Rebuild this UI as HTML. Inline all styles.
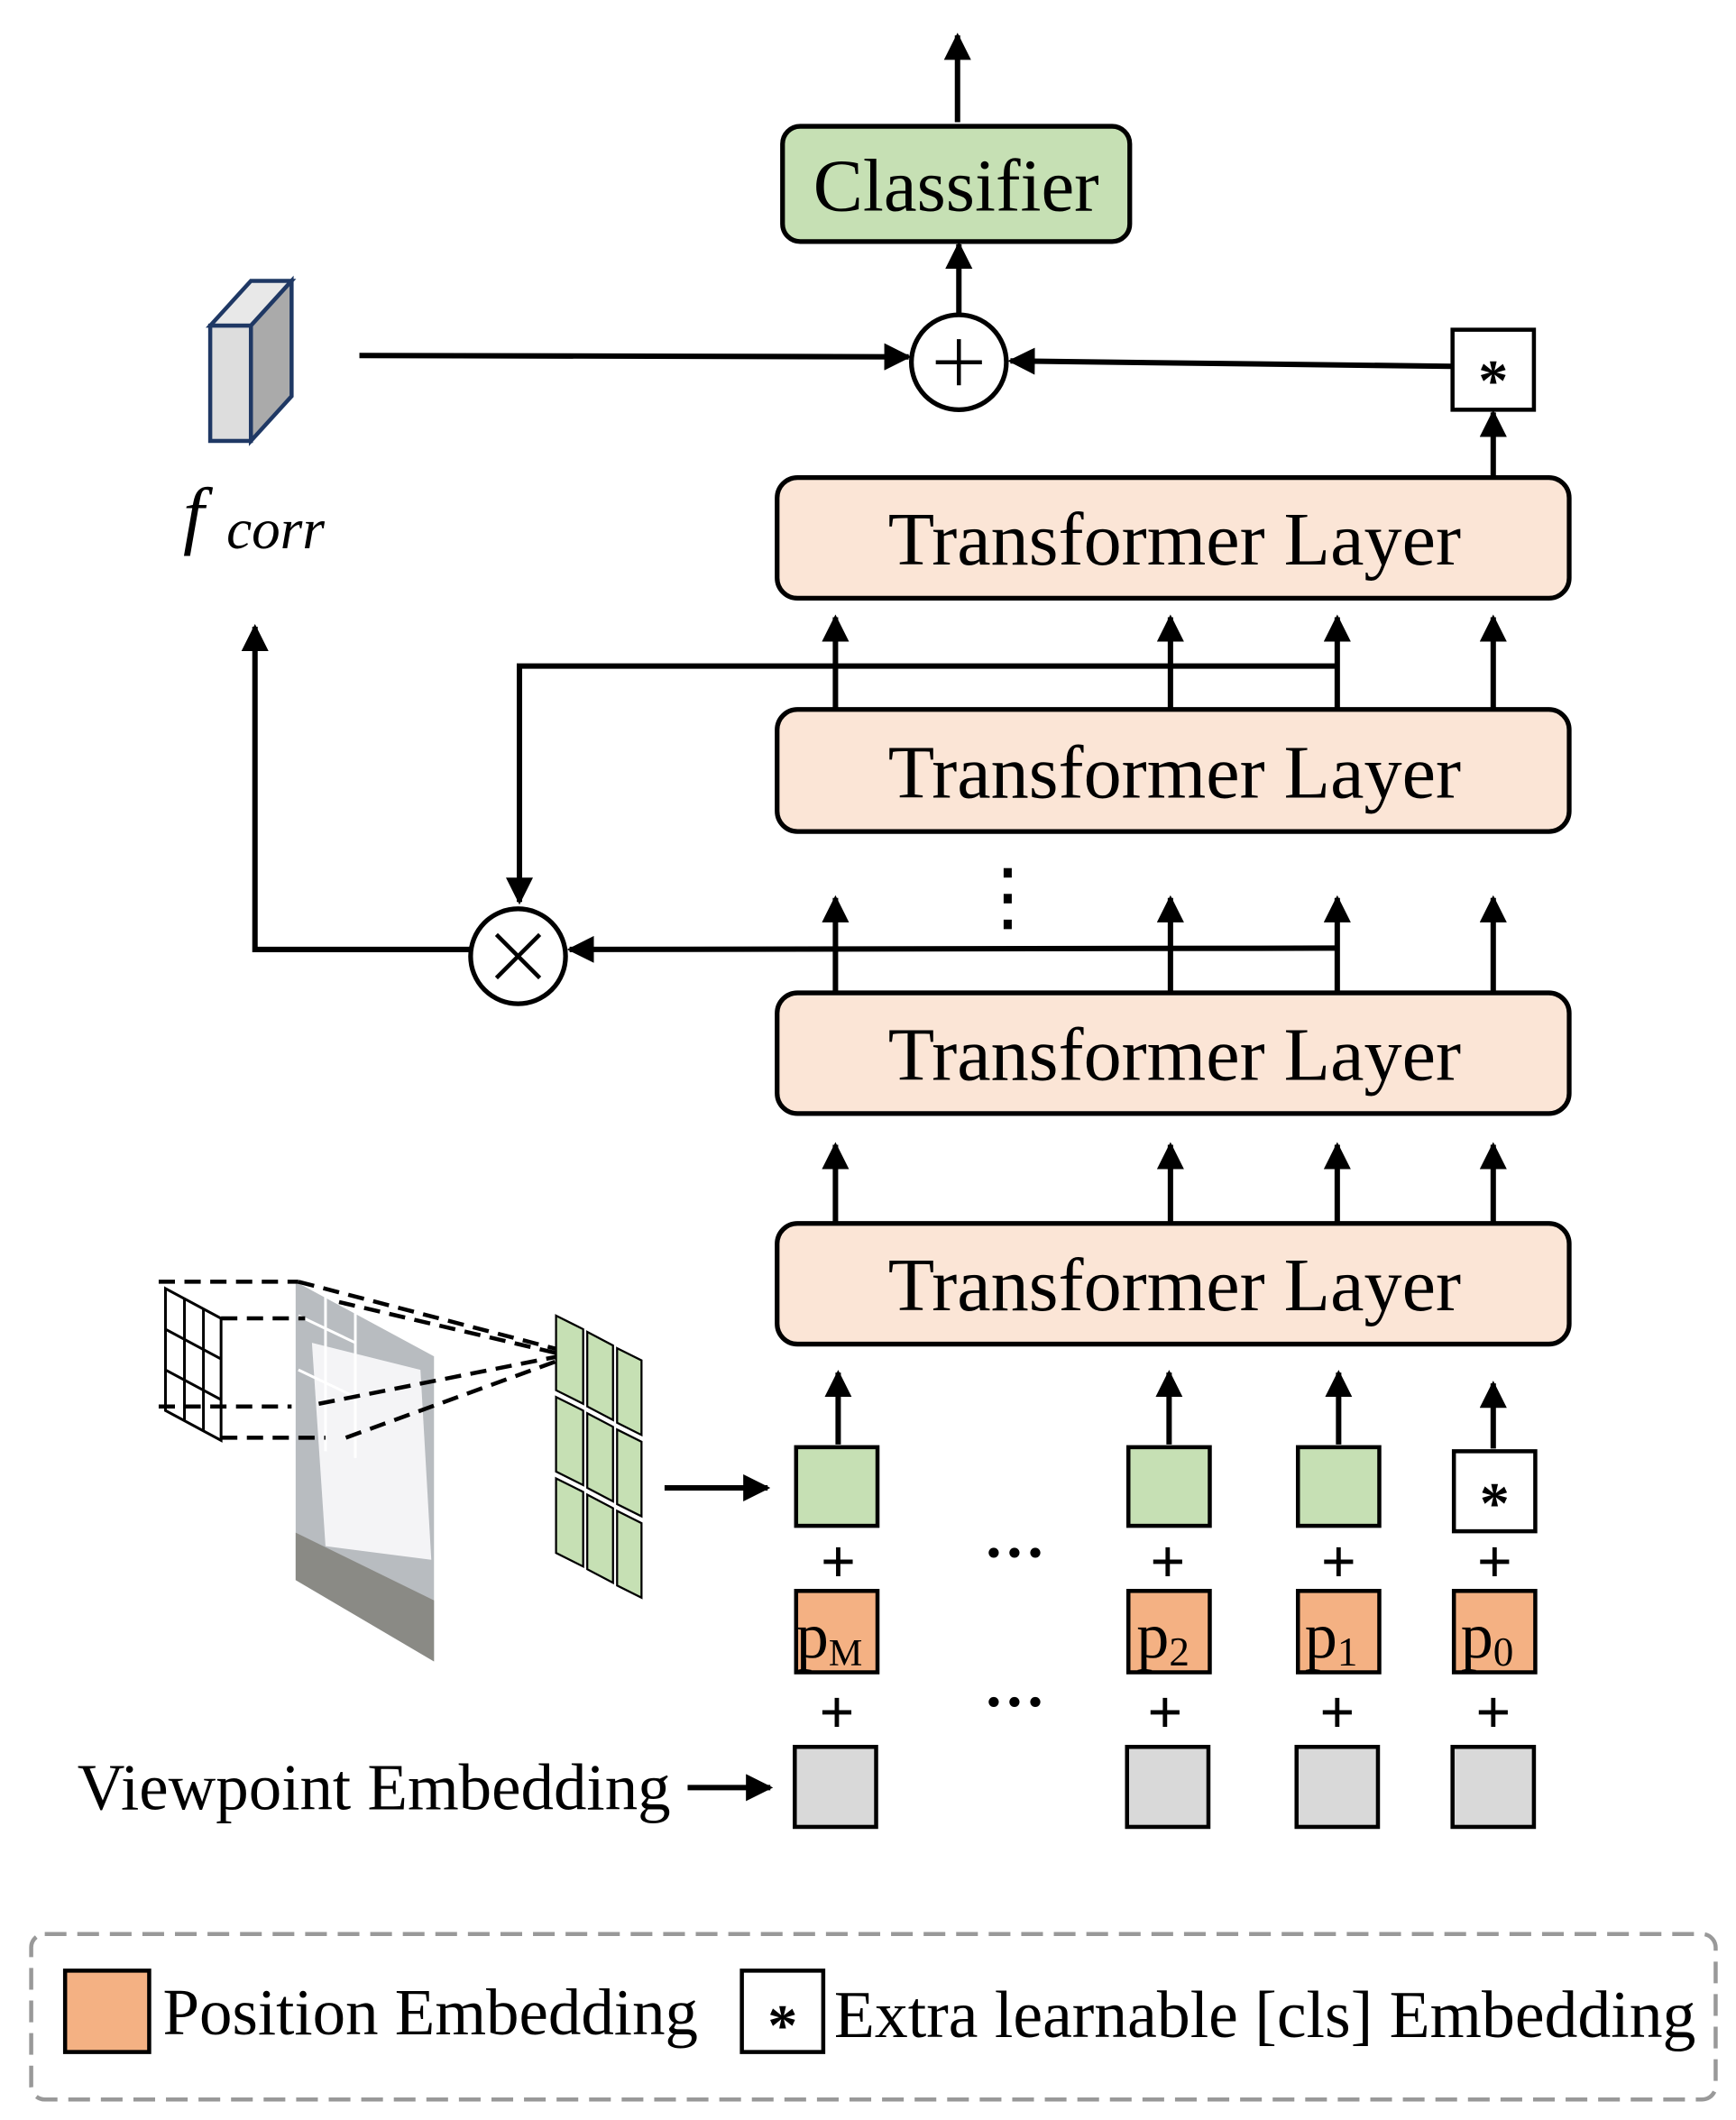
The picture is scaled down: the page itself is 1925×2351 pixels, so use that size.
<!DOCTYPE html>
<html><head><style>html,body{margin:0;padding:0;background:#fff;}svg{display:block}</style></head>
<body>
<svg width="1925" height="2351" viewBox="0 0 1280 1563" xmlns="http://www.w3.org/2000/svg" font-family="Liberation Serif, serif">
<defs>
<marker id="a" viewBox="0 0 10 10" refX="9" refY="5" markerWidth="5" markerHeight="5" orient="auto-start-reverse" markerUnits="strokeWidth"><path d="M0,0 L10,5 L0,10 z" fill="#000"/></marker>
</defs>
<g stroke="#000" stroke-width="4" fill="none">
<line x1="706" y1="90" x2="706" y2="26" marker-end="url(#a)"/>
<line x1="707" y1="232" x2="707" y2="180" marker-end="url(#a)"/>
<line x1="265" y1="262" x2="670" y2="263" marker-end="url(#a)"/>
<line x1="1071" y1="270" x2="745" y2="266" marker-end="url(#a)"/>
<line x1="1101" y1="352" x2="1101" y2="304" marker-end="url(#a)"/>
<line x1="616" y1="523" x2="616" y2="455" marker-end="url(#a)"/>
<line x1="863" y1="523" x2="863" y2="455" marker-end="url(#a)"/>
<line x1="986" y1="523" x2="986" y2="455" marker-end="url(#a)"/>
<line x1="1101" y1="523" x2="1101" y2="455" marker-end="url(#a)"/>
<polyline points="986,491 383,491 383,665" marker-end="url(#a)"/>
<line x1="616" y1="732" x2="616" y2="662" marker-end="url(#a)"/>
<line x1="863" y1="732" x2="863" y2="662" marker-end="url(#a)"/>
<line x1="986" y1="732" x2="986" y2="662" marker-end="url(#a)"/>
<line x1="1101" y1="732" x2="1101" y2="662" marker-end="url(#a)"/>
<line x1="986" y1="699" x2="420" y2="700" marker-end="url(#a)"/>
<polyline points="347,700 188,700 188,462" marker-end="url(#a)"/>
<line x1="616" y1="902" x2="616" y2="844" marker-end="url(#a)"/>
<line x1="863" y1="902" x2="863" y2="844" marker-end="url(#a)"/>
<line x1="986" y1="902" x2="986" y2="844" marker-end="url(#a)"/>
<line x1="1101" y1="902" x2="1101" y2="844" marker-end="url(#a)"/>
<line x1="618" y1="1065" x2="618" y2="1012" marker-end="url(#a)"/>
<line x1="862" y1="1065" x2="862" y2="1012" marker-end="url(#a)"/>
<line x1="987" y1="1065" x2="987" y2="1012" marker-end="url(#a)"/>
<line x1="1101" y1="1068" x2="1101" y2="1020" marker-end="url(#a)"/>
<line x1="490" y1="1097" x2="566" y2="1097" marker-end="url(#a)"/>
<line x1="507" y1="1318" x2="568" y2="1318" marker-end="url(#a)"/>
</g>
<rect x="577" y="93" width="256" height="85" rx="13" fill="#c6e0b4" stroke="#000" stroke-width="3.5"/>
<text x="705" y="155" font-size="55" text-anchor="middle">Classifier</text>
<circle cx="707" cy="267" r="35" fill="#fff" stroke="#000" stroke-width="3.5"/>
<path d="M690,267 H724 M707,250 V284" stroke="#000" stroke-width="3"/>
<circle cx="382" cy="705" r="35" fill="#fff" stroke="#000" stroke-width="3.5"/>
<path d="M366,689 L398,721 M398,689 L366,721" stroke="#000" stroke-width="3"/>
<polygon points="155,240 185,207 215,207 185,240" fill="#e8e8e8" stroke="#1f3864" stroke-width="3"/>
<polygon points="185,240 215,207 215,292 185,325" fill="#aaa" stroke="#1f3864" stroke-width="3"/>
<rect x="155" y="240" width="30" height="85" fill="#ddd" stroke="#1f3864" stroke-width="3"/>
<text x="135" y="398" font-size="56" font-style="italic">f</text>
<text x="167" y="404" font-size="42" font-style="italic">corr</text>
<rect x="1071" y="243" width="60" height="59" fill="#fff" stroke="#000" stroke-width="3"/>
<text x="1101" y="295" font-size="44" font-weight="bold" text-anchor="middle">*</text>
<g fill="#fbe5d6" stroke="#000" stroke-width="3.5">
<rect x="573" y="352" width="584" height="89" rx="15"/>
<rect x="573" y="523" width="584" height="90" rx="15"/>
<rect x="573" y="732" width="584" height="89" rx="15"/>
<rect x="573" y="902" width="584" height="89" rx="15"/>
</g>
<g font-size="56" text-anchor="middle">
<text x="866" y="416">Transformer Layer</text>
<text x="866" y="588">Transformer Layer</text>
<text x="866" y="796">Transformer Layer</text>
<text x="866" y="966">Transformer Layer</text>
</g>
<g fill="#000"><rect x="740" y="640" width="6" height="7"/><rect x="740" y="659" width="6" height="7"/><rect x="740" y="678" width="6" height="7"/></g>
<polygon points="218,945 320,1000 320,1225 218,1165" fill="#b8bcc0"/>
<polygon points="230,990 310,1010 318,1150 240,1140" fill="#f4f4f6"/>
<polygon points="218,1130 320,1180 320,1225 218,1165" fill="#8a8a85"/>
<g stroke="#fff" stroke-width="2"><line x1="220" y1="970" x2="262" y2="990"/><line x1="220" y1="1010" x2="262" y2="1030"/><line x1="240" y1="955" x2="240" y2="1070"/><line x1="262" y1="960" x2="262" y2="1075"/></g>
<g stroke="#000" stroke-width="2" fill="none">
<polygon points="122,950 163,972 163,1062 122,1040"/>
<line x1="136" y1="957" x2="136" y2="1047"/><line x1="150" y1="965" x2="150" y2="1055"/>
<line x1="122" y1="980" x2="163" y2="1002"/><line x1="122" y1="1010" x2="163" y2="1032"/>
</g>
<g stroke="#000" stroke-width="3" stroke-dasharray="12,7" fill="none">
<line x1="117" y1="945" x2="220" y2="945"/><line x1="163" y1="972" x2="225" y2="972"/>
<line x1="117" y1="1037" x2="215" y2="1037"/><line x1="163" y1="1060" x2="240" y2="1060"/>
<line x1="220" y1="945" x2="412" y2="995"/><line x1="250" y1="960" x2="412" y2="998"/>
<line x1="235" y1="1035" x2="412" y2="1000"/><line x1="255" y1="1060" x2="412" y2="1003"/>
</g>
<g fill="#c6e0b4" stroke="#000" stroke-width="1.5">
<polygon points="410,970 430,980 430,1035 410,1025"/><polygon points="433,982 452,992 452,1047 433,1037"/><polygon points="455,994 473,1003 473,1058 455,1049"/>
<polygon points="410,1030 430,1040 430,1095 410,1085"/><polygon points="433,1042 452,1052 452,1107 433,1097"/><polygon points="455,1054 473,1063 473,1118 455,1109"/>
<polygon points="410,1090 430,1100 430,1155 410,1145"/><polygon points="433,1102 452,1112 452,1167 433,1157"/><polygon points="455,1114 473,1123 473,1178 455,1169"/>
</g>
<g stroke="#000" stroke-width="3">
<rect x="587" y="1067" width="60" height="58" fill="#c6e0b4"/>
<rect x="832" y="1067" width="60" height="58" fill="#c6e0b4"/>
<rect x="957" y="1067" width="60" height="58" fill="#c6e0b4"/>
<rect x="1072" y="1070" width="60" height="59" fill="#fff"/>
<rect x="587" y="1173" width="60" height="60" fill="#f4b183"/>
<rect x="832" y="1173" width="60" height="60" fill="#f4b183"/>
<rect x="957" y="1173" width="60" height="60" fill="#f4b183"/>
<rect x="1072" y="1173" width="60" height="60" fill="#f4b183"/>
<rect x="586" y="1288" width="60" height="59" fill="#d9d9d9"/>
<rect x="831" y="1288" width="60" height="59" fill="#d9d9d9"/>
<rect x="956" y="1288" width="60" height="59" fill="#d9d9d9"/>
<rect x="1071" y="1288" width="60" height="59" fill="#d9d9d9"/>
</g>
<text x="1102" y="1123" font-size="44" font-weight="bold" text-anchor="middle">*</text>
<g font-size="46" font-weight="bold" text-anchor="middle">
<text x="618" y="1167">+</text><text x="861" y="1167">+</text><text x="987" y="1167">+</text><text x="1102" y="1167">+</text>
<text x="617" y="1278">+</text><text x="859" y="1278">+</text><text x="986" y="1278">+</text><text x="1101" y="1278">+</text>
<text x="748" y="1160">···</text><text x="748" y="1270">···</text>
</g>
<g font-size="48">
<text x="587" y="1222">p<tspan font-size="28" dy="6">M</tspan></text>
<text x="838" y="1222">p<tspan font-size="30" dy="6">2</tspan></text>
<text x="962" y="1222">p<tspan font-size="30" dy="6">1</tspan></text>
<text x="1077" y="1222">p<tspan font-size="30" dy="6">0</tspan></text>
</g>
<text x="57" y="1334" font-size="48.5">Viewpoint Embedding</text>
<rect x="23" y="1426" width="1242" height="122" rx="10" fill="none" stroke="#999" stroke-width="3" stroke-dasharray="16,8"/>
<rect x="48" y="1453" width="62" height="60" fill="#f4b183" stroke="#000" stroke-width="3"/>
<text x="120" y="1500" font-size="48.5">Position Embedding</text>
<rect x="547" y="1453" width="60" height="60" fill="#fff" stroke="#000" stroke-width="3"/>
<text x="577" y="1508" font-size="44" font-weight="bold" text-anchor="middle">*</text>
<text x="615" y="1502" font-size="49">Extra learnable [cls] Embedding</text>
</svg>
</body></html>
